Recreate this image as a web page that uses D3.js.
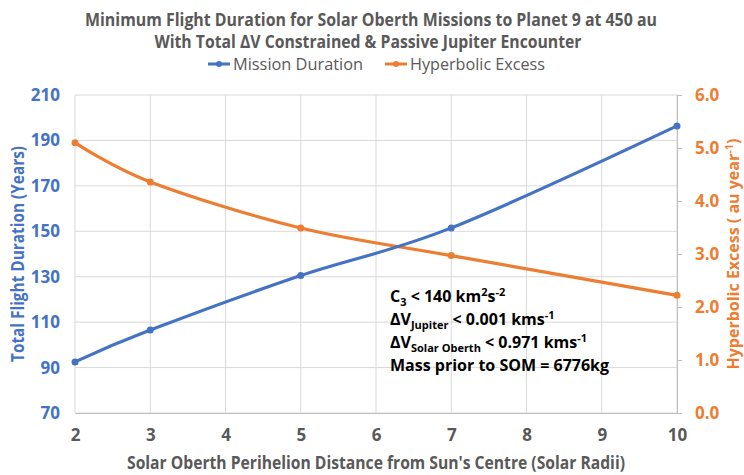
<!DOCTYPE html>
<html>
<head>
<meta charset="utf-8">
<script src="https://cdn.jsdelivr.net/npm/d3@7"></script>
<style>
  body { margin: 0; background: #fff; }
  text { font-family: "Open Sans", "Noto Sans", sans-serif; }
</style>
</head>
<body>
<div id="chart"></div>
<script>
// data
var distances = [2, 3, 5, 7, 10];
var missionDuration = [92.5, 106.5, 130.5, 151.5, 196.4];
var hyperbolicExcess = [5.10, 4.36, 3.49, 2.97, 2.22];
var xTicks = [2, 3, 4, 5, 6, 7, 8, 9, 10];
var leftTicks = [70, 90, 110, 130, 150, 170, 190, 210];
var rightTicks = [0, 1, 2, 3, 4, 5, 6];

var blue = "#4472C4", orange = "#ED7D31", grey = "#595959";

var W = 744, H = 475;
var margin = {top: 95, right: 67, bottom: 62, left: 75},
    width = W - margin.left - margin.right,
    height = H - margin.top - margin.bottom;

var root = d3.select("#chart")
    .append("svg")
    .attr("width", W)
    .attr("height", H);

var svg = root.append("g")
    .attr("transform", "translate(" + margin.left + "," + margin.top + ")");

var x = d3.scaleLinear().domain([2, 10]).range([0, width]);
var yL = d3.scaleLinear().domain([70, 210]).range([height, 0]);
var yR = d3.scaleLinear().domain([0, 6]).range([height, 0]);

// grid
svg.selectAll("hgrid")
    .data(leftTicks)
    .enter()
    .append("line")
    .attr("x1", 0).attr("x2", width)
    .attr("y1", function(d) { return yL(d) })
    .attr("y2", function(d) { return yL(d) })
    .attr("stroke", "#d9d9d9")
    .attr("stroke-width", 1);

svg.selectAll("vgrid")
    .data(xTicks)
    .enter()
    .append("line")
    .attr("x1", function(d) { return x(d) })
    .attr("x2", function(d) { return x(d) })
    .attr("y1", 0).attr("y2", height)
    .attr("stroke", "#d9d9d9")
    .attr("stroke-width", 1);

// X axis
var xAxis = svg.append("g")
    .attr("transform", "translate(0," + height + ")")
    .call(d3.axisBottom(x).tickValues(xTicks).tickSize(0).tickPadding(16));
xAxis.select(".domain").attr("stroke", "#bfbfbf");
xAxis.selectAll("text")
    .attr("fill", grey)
    .style("font-size", "17px")
    .style("font-weight", "bold");

// left Y axis
var lAxis = svg.append("g")
    .call(d3.axisLeft(yL).tickValues(leftTicks).tickSize(0).tickPadding(15));
lAxis.select(".domain").remove();
lAxis.selectAll("text")
    .attr("fill", blue)
    .style("font-size", "17px")
    .style("font-weight", "bold");

// right Y axis
var rAxis = svg.append("g")
    .attr("transform", "translate(" + width + ",0)")
    .call(d3.axisRight(yR).tickValues(rightTicks).tickFormat(d3.format(".1f")).tickSize(5).tickSizeOuter(0).tickPadding(13));
rAxis.select(".domain").attr("stroke", "#bfbfbf");
rAxis.selectAll("line").attr("stroke", "#bfbfbf");
rAxis.selectAll("text")
    .attr("fill", orange)
    .style("font-size", "17px")
    .style("font-weight", "bold");

// lines
var pts = distances.map(function(d, i) {
    return {x: d, dur: missionDuration[i], hyp: hyperbolicExcess[i]};
});

svg.append("path")
    .datum(pts)
    .attr("fill", "none")
    .attr("stroke", orange)
    .attr("stroke-width", 3.2)
    .attr("d", d3.line()
        .curve(d3.curveCardinal)
        .x(function(d) { return x(d.x) })
        .y(function(d) { return yR(d.hyp) }));

svg.append("path")
    .datum(pts)
    .attr("fill", "none")
    .attr("stroke", blue)
    .attr("stroke-width", 3.2)
    .attr("d", d3.line()
        .curve(d3.curveCardinal)
        .x(function(d) { return x(d.x) })
        .y(function(d) { return yL(d.dur) }));

svg.selectAll("hypDots")
    .data(pts)
    .enter()
    .append("circle")
    .attr("fill", orange)
    .attr("cx", function(d) { return x(d.x) })
    .attr("cy", function(d) { return yR(d.hyp) })
    .attr("r", 3.5);

svg.selectAll("durDots")
    .data(pts)
    .enter()
    .append("circle")
    .attr("fill", blue)
    .attr("cx", function(d) { return x(d.x) })
    .attr("cy", function(d) { return yL(d.dur) })
    .attr("r", 3.5);

// titles
root.append("text")
    .attr("x", 371).attr("y", 26)
    .attr("text-anchor", "middle")
    .attr("fill", grey)
    .attr("textLength", 572).attr("lengthAdjust", "spacingAndGlyphs")
    .style("font-size", "17px").style("font-weight", "bold")
    .text("Minimum Flight Duration for Solar Oberth Missions to Planet 9 at 450 au");

root.append("text")
    .attr("x", 368).attr("y", 48)
    .attr("text-anchor", "middle")
    .attr("fill", grey)
    .attr("textLength", 427).attr("lengthAdjust", "spacingAndGlyphs")
    .style("font-size", "17px").style("font-weight", "bold")
    .text("With Total \u0394V Constrained & Passive Jupiter Encounter");

// legend
var legend = [
    {label: "Mission Duration", color: blue, x: 208, w: 130},
    {label: "Hyperbolic Excess", color: orange, x: 385, w: 135}
];
legend.forEach(function(l) {
    root.append("line")
        .attr("x1", l.x).attr("x2", l.x + 22)
        .attr("y1", 64).attr("y2", 64)
        .attr("stroke", l.color).attr("stroke-width", 3);
    root.append("circle")
        .attr("cx", l.x + 11).attr("cy", 64).attr("r", 3)
        .attr("fill", l.color);
    root.append("text")
        .attr("x", l.x + 25).attr("y", 70)
        .attr("fill", grey)
        .attr("textLength", l.w).attr("lengthAdjust", "spacingAndGlyphs")
        .style("font-size", "17px")
        .text(l.label);
});

// axis titles
root.append("text")
    .attr("x", margin.left + width / 2).attr("y", 469)
    .attr("text-anchor", "middle")
    .attr("fill", grey)
    .attr("textLength", 498).attr("lengthAdjust", "spacingAndGlyphs")
    .style("font-size", "17px").style("font-weight", "bold")
    .text("Solar Oberth Perihelion Distance from Sun's Centre (Solar Radii)");

root.append("text")
    .attr("transform", "translate(24,254) rotate(-90)")
    .attr("text-anchor", "middle")
    .attr("fill", blue)
    .attr("textLength", 216).attr("lengthAdjust", "spacingAndGlyphs")
    .style("font-size", "17px").style("font-weight", "bold")
    .text("Total Flight Duration (Years)");

var rt = root.append("text")
    .attr("transform", "translate(739,254) rotate(-90)")
    .attr("text-anchor", "middle")
    .attr("fill", orange)
    .style("font-size", "16px").style("font-weight", "bold");
rt.append("tspan").text("Hyperbolic Excess ( au year");
rt.append("tspan").attr("dy", -6).style("font-size", "11px").text("-1");
rt.append("tspan").attr("dy", 6).text(")");

// annotation
var note = root.append("g").attr("transform", "translate(390,0)");
function noteLine(y, parts) {
    var t = note.append("text")
        .attr("y", y)
        .attr("fill", "#000")
        .style("font-size", "16px").style("font-weight", "bold");
    var shift = 0;
    parts.forEach(function(p) {
        var want = p[1] === "sub" ? 4 : p[1] === "super" ? -6 : 0;
        var s = t.append("tspan").attr("dy", want - shift).text(p[0]);
        if (p[1]) s.style("font-size", "11px");
        shift = want;
    });
}
noteLine(302, [["C"], ["3", "sub"], [" < 140 km"], ["2", "super"], ["s"], ["-2", "super"]]);
noteLine(325, [["\u0394V"], ["Jupiter", "sub"], [" < 0.001 kms"], ["-1", "super"]]);
noteLine(348, [["\u0394V"], ["Solar Oberth", "sub"], [" < 0.971 kms"], ["-1", "super"]]);
noteLine(371, [["Mass prior to SOM = 6776kg"]]);
</script>
</body>
</html>
